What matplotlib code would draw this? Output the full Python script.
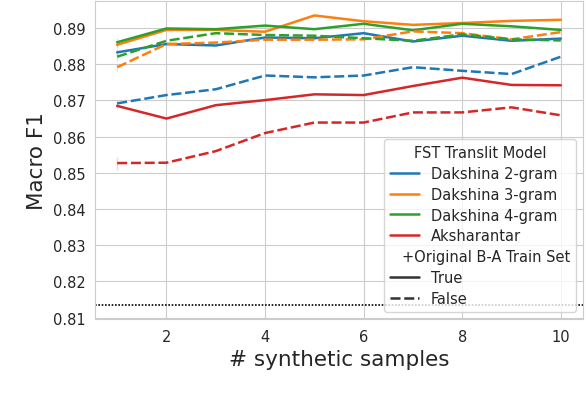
import matplotlib
matplotlib.use("Agg")
import matplotlib.pyplot as plt
import matplotlib.offsetbox
from matplotlib.lines import Line2D
import seaborn as sns

sns.set_style("whitegrid")

# number of synthetic samples
samples = [1, 2, 3, 4, 5, 6, 7, 8, 9, 10]

# Macro F1, with the original B-A train set (solid lines)
dak2_true = [0.8833, 0.8856, 0.8852, 0.8874, 0.8872, 0.8886, 0.8863, 0.8879, 0.8865, 0.8871]
dak3_true = [0.8854, 0.8895, 0.8895, 0.8890, 0.8935, 0.8919, 0.8909, 0.8914, 0.8920, 0.8923]
dak4_true = [0.8861, 0.8899, 0.8897, 0.8907, 0.8897, 0.8912, 0.8894, 0.8912, 0.8905, 0.8895]
aksh_true = [0.8685, 0.8650, 0.8687, 0.8701, 0.8717, 0.8715, 0.8740, 0.8763, 0.8743, 0.8742]

# without the original train set (dashed lines)
dak2_false = [0.8692, 0.8715, 0.8731, 0.8769, 0.8764, 0.8769, 0.8792, 0.8782, 0.8773, 0.8821]
dak3_false = [0.8792, 0.8856, 0.8860, 0.8868, 0.8868, 0.8869, 0.8891, 0.8886, 0.8869, 0.8889]
dak4_false = [0.8821, 0.8865, 0.8886, 0.8881, 0.8879, 0.8872, 0.8865, 0.8883, 0.8869, 0.8866]
aksh_false = [0.8527, 0.8528, 0.8560, 0.8610, 0.8639, 0.8639, 0.8667, 0.8667, 0.8681, 0.8659]

# spread of the runs at 1 sample (faint marks at x=1)
spread_true = [0.0008, 0.0010, 0.0012, 0.0008]
spread_false = [0.0010, 0.0012, 0.0012, 0.0018]

baseline = 0.8136

models = ["Dakshina 2-gram", "Dakshina 3-gram", "Dakshina 4-gram", "Aksharantar"]
colors = ["#1f77b4", "#ff7f0e", "#2ca02c", "#d62728"]
true_series = [dak2_true, dak3_true, dak4_true, aksh_true]
false_series = [dak2_false, dak3_false, dak4_false, aksh_false]

LW = 1.8

fig = plt.figure(figsize=(5.86, 4.06), dpi=100)
ax = fig.add_axes([95 / 586, 1 - 320 / 406, (583 - 95) / 586, (320 - 2) / 406])

for vals, sp, c in zip(true_series, spread_true, colors):
    ax.plot(samples, vals, color=c, lw=LW)
    ax.vlines(samples[0], vals[0] - sp, vals[0] + sp, color=c, alpha=0.2, lw=1)
for vals, sp, c in zip(false_series, spread_false, colors):
    ax.plot(samples, vals, color=c, lw=LW, dashes=(4, 1.5))
    ax.vlines(samples[0], vals[0] - sp, vals[0] + sp, color=c, alpha=0.2, lw=1)

ax.axhline(baseline, color="black", lw=1.2, ls=(0, (1, 1)))

ax.set_xticks([2, 4, 6, 8, 10])
ax.set_yticks([0.81, 0.82, 0.83, 0.84, 0.85, 0.86, 0.87, 0.88, 0.89])
ax.tick_params(labelsize=10.5)
ax.set_xlabel("# synthetic samples", fontsize=15.5)
ax.set_ylabel("Macro F1", fontsize=15.5)

# legend in seaborn's style, with a sub-title row for the style variable
handles = [Line2D([], [], color=c, lw=LW) for c in colors]
labels = list(models)
sub = Line2D([], [], visible=False)
handles += [sub,
            Line2D([], [], color=".2", lw=LW),
            Line2D([], [], color=".2", lw=LW, dashes=(4, 1.5))]
labels += ["+Original B-A Train Set", "True", "False"]
leg = ax.legend(handles, labels, title="FST Translit Model", loc="lower right",
                fontsize=10.5, title_fontsize=10.5, labelspacing=0.4)
for hpack in leg.findobj(matplotlib.offsetbox.VPacker)[0].get_children():
    draw_area, text_area = hpack.get_children()
    if not all(a.get_visible() for a in draw_area.get_children()):
        draw_area.set_width(0)

fig.text(0.003, 1 / 406, "Figure 3:", family="serif", fontsize=11, color="0.3", va="top")

fig.savefig("out.png", dpi=100)
